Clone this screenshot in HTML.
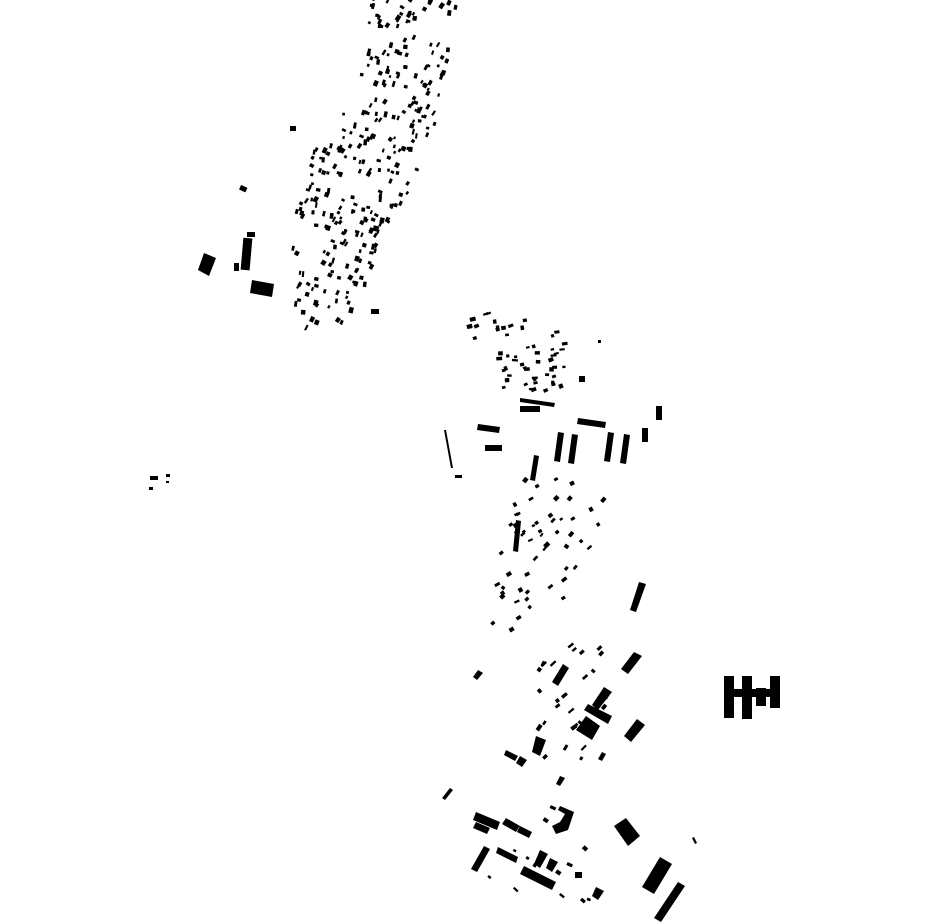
<!DOCTYPE html>
<html><head><meta charset="utf-8"><style>
html,body{margin:0;padding:0;background:#fff;}
svg{display:block;}
</style></head><body>
<svg id="s" width="930" height="924" viewBox="0 0 930 924" xmlns="http://www.w3.org/2000/svg">
<g fill="#000">
<polygon points="204,253 216,258 209,276 198,270"/>
<rect x="242" y="238" width="9" height="32" transform="rotate(5 246 254)"/>
<rect x="247" y="232" width="8" height="5"/>
<rect x="234" y="263" width="5" height="8"/>
<polygon points="252,280 274,284 272,297 250,293"/>
<rect x="240" y="186" width="7" height="5" transform="rotate(25 243 188)"/>
<rect x="290" y="126" width="6" height="5"/>
<rect x="371" y="309" width="8" height="5"/>
<rect x="150" y="476" width="8" height="4"/><rect x="166" y="474" width="4" height="3"/><rect x="149" y="487" width="4" height="3"/><rect x="166" y="481" width="3" height="2"/>
<polygon points="520,398 555,403 554,407 520,402"/>
<rect x="520" y="406" width="20" height="6"/>
<polygon points="478,424 500,427 499,433 477,430"/>
<rect x="485" y="445" width="17" height="6"/>
<polygon points="578,418 606,422 605,428 577,424"/>
<polygon points="558,432 564,433 560,462 554,461"/>
<polygon points="572,434 578,435 574,464 568,463"/>
<polygon points="608,432 614,433 610,462 604,461"/>
<polygon points="624,434 630,435 626,464 620,463"/>
<rect x="642" y="428" width="6" height="14"/>
<rect x="656" y="406" width="6" height="14"/>
<polygon points="444,430 446,430 453,468 451,468"/>
<rect x="455" y="475" width="7" height="3"/>
<polygon points="534,455 539,456 535,481 530,480"/>
<polygon points="516,520 521,521 518,552 513,551"/>
<rect x="579" y="376" width="6" height="6"/><rect x="598" y="340" width="3" height="3"/>
<polygon points="639,582 646,584 636,612 630,610"/>
<rect x="724" y="676" width="10" height="42"/>
<rect x="742" y="676" width="10" height="43"/>
<rect x="734" y="689" width="40" height="8"/>
<rect x="770" y="676" width="10" height="32"/>
<rect x="756" y="688" width="10" height="18"/>
<polygon points="634,652 642,656 628,674 621,669"/>
<polygon points="604,687 612,692 598,710 592,705"/>
<polygon points="588,704 612,716 608,724 584,710"/>
<polygon points="586,716 600,726 592,740 576,730"/>
<polygon points="637,719 645,725 631,742 624,736"/>
<polygon points="563,664 569,668 558,686 552,682"/>
<polygon points="660,857 672,864 654,894 642,887"/>
<polygon points="678,882 685,886 661,922 654,918"/>
<polygon points="524,866 556,882 552,890 520,874"/>
<polygon points="484,846 490,849 477,872 471,869"/>
<polygon points="614,826 626,818 640,836 628,846"/>
<polygon points="498,847 518,857 516,863 496,853"/>
<polygon points="476,812 500,822 497,830 473,820"/>
<polygon points="476,822 490,828 487,834 473,828"/>
<polygon points="560,806 574,812 568,830 556,834 552,826 560,822 565,814 558,810"/>
<polygon points="450,788 453,790 445,800 442,798"/>
<polygon points="478,670 483,673 477,680 473,677"/>
<polygon points="506,750 518,756 515,761 504,755"/>
<polygon points="520,756 527,760 522,767 516,763"/>
<polygon points="506,818 520,826 516,832 502,824"/>
<polygon points="520,826 532,832 529,838 517,832"/>
<polygon points="540,850 548,854 540,868 534,864"/>
<polygon points="550,858 558,862 552,872 546,868"/>
<rect x="575" y="872" width="7" height="6"/>
<polygon points="596,887 604,891 598,900 592,896"/>
<polygon points="692,838 694,837 697,843 695,844"/>
<polygon points="560,776 565,778 560,786 556,784"/>
<polygon points="602,752 606,754 602,761 598,759"/>
<polygon points="536,736 546,740 540,756 532,752"/>
</g>
</svg>
<script>
(function(){
var s=document.getElementById('s');var seed=12345;
function r(){seed=(seed*16807)%2147483647;return seed/2147483647;}
function inPoly(x,y,p){var c=false;for(var i=0,j=p.length-1;i<p.length;j=i++){var xi=p[i][0],yi=p[i][1],xj=p[j][0],yj=p[j][1];if(((yi>y)!=(yj>y))&&(x<(xj-xi)*(y-yi)/(yj-yi)+xi))c=!c;}return c;}
function fill(poly,n,wmin,wmax,ang){var xs=poly.map(function(p){return p[0]}),ys=poly.map(function(p){return p[1]});var x0=Math.min.apply(0,xs),x1=Math.max.apply(0,xs),y0=Math.min.apply(0,ys),y1=Math.max.apply(0,ys);var k=0,t=0;while(k<n&&t<n*20){t++;var x=x0+r()*(x1-x0),y=y0+r()*(y1-y0);if(!inPoly(x,y,poly))continue;k++;var w=wmin+r()*(wmax-wmin),h=2+r()*2.5;var e=document.createElementNS('http://www.w3.org/2000/svg','rect');e.setAttribute('x',x);e.setAttribute('y',y);e.setAttribute('width',w);e.setAttribute('height',h);e.setAttribute('transform','rotate('+(ang+(r()-0.5)*30)+' '+x+' '+y+')');s.appendChild(e);}}
fill([[358,0],[458,0],[445,60],[432,130],[405,195],[385,235],[365,290],[340,330],[285,332],[292,230],[300,170],[322,130],[355,95],[368,40]],300,2.5,6,-70);
fill([[465,315],[540,305],[565,345],[560,395],[510,392],[470,370]],55,3,6,-10);
fill([[490,465],[580,480],[610,495],[585,560],[560,600],[525,630],[488,630],[495,570],[500,500]],55,3,6,-40);
fill([[540,640],[585,640],[620,660],[600,760],[540,770],[530,720]],28,3,7,-50);
fill([[490,800],[580,800],[600,900],[520,900],[470,860]],14,3,6,30);
})();
</script>
</body></html>
